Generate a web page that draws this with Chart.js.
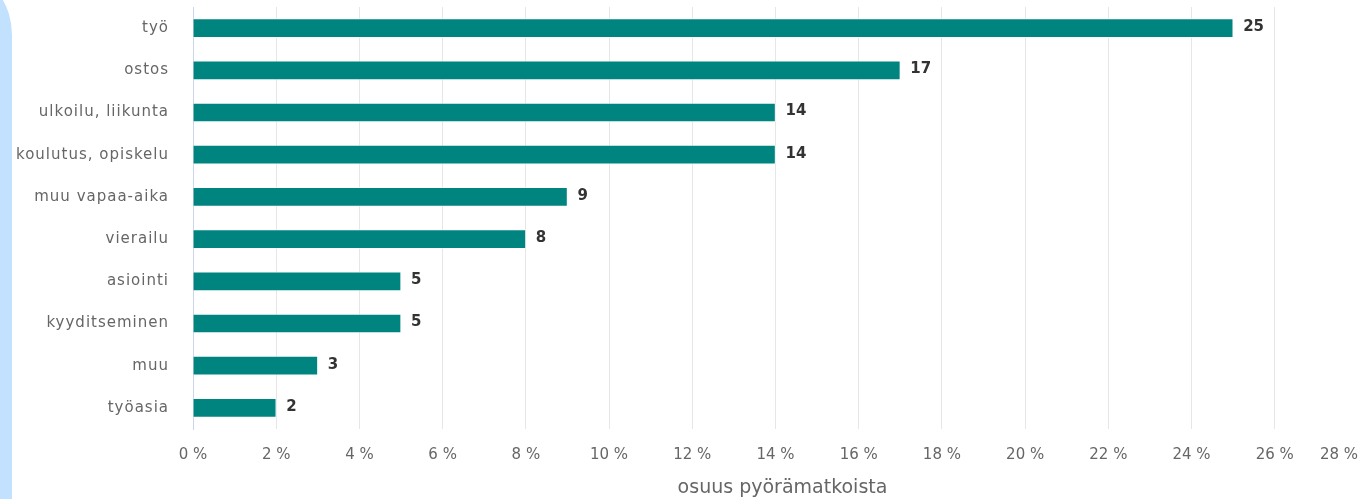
<!DOCTYPE html>
<html>
<head>
<meta charset="utf-8">
<script src="https://cdn.jsdelivr.net/npm/chart.js@4/dist/chart.umd.min.js"></script>
<style>
  html, body { margin: 0; padding: 0; background: #fff; overflow: hidden; }
  #wrap { position: relative; width: 1358px; height: 499px; }
  #panel { position: absolute; left: -40px; top: -20px; width: 52px; height: 600px;
           background: #c2e1ff; border-top-right-radius: 40px 55px; }
  #c { position: absolute; left: 0; top: 0; }
</style>
</head>
<body>
<div id="wrap">
  <div id="panel"></div>
  <canvas id="c" width="1358" height="499"></canvas>
</div>
<script>
const categories = ["työ", "ostos", "ulkoilu, liikunta", "koulutus, opiskelu", "muu vapaa-aika",
                    "vierailu", "asiointi", "kyyditseminen", "muu", "työasia"];
const shares = [25, 17, 14, 14, 9, 8, 5, 5, 3, 2];
const xTicks = [0, 2, 4, 6, 8, 10, 12, 14, 16, 18, 20, 22, 24, 26, 28];
const axisTitle = "osuus pyörämatkoista";

const FONT = "'DejaVu Sans', Verdana, sans-serif";

const spacing = {
  id: 'spacing',
  beforeDraw(chart) { chart.ctx.letterSpacing = "1px"; },
  afterDraw(chart) { chart.ctx.letterSpacing = "0px"; }
};

const overlay = {
  id: 'overlay',
  afterDatasetsDraw(chart) {
    const ctx = chart.ctx;
    const meta = chart.getDatasetMeta(0);
    ctx.save();
    ctx.letterSpacing = "0px";
    ctx.font = "bold 15px " + FONT;
    ctx.fillStyle = "#333";
    ctx.textAlign = "left";
    ctx.textBaseline = "middle";
    meta.data.forEach((bar, i) => {
      ctx.fillText(String(shares[i]), bar.x + 10, bar.y - 1);
    });
    // x tick labels
    const xs = chart.scales.x;
    ctx.font = "15px " + FONT;
    ctx.fillStyle = "#666";
    xTicks.forEach(v => {
      const label = v + " %";
      const w = ctx.measureText(label).width;
      let x = xs.getPixelForValue(v) - w / 2;
      if (x + w > chart.width) x = chart.width - w;
      ctx.textAlign = "left";
      ctx.fillText(label, x, 455);
    });
    // axis title
    ctx.font = "19px " + FONT;
    ctx.textAlign = "center";
    ctx.fillText(axisTitle, (chart.chartArea.left + chart.chartArea.right) / 2 + 7, 488);
    ctx.restore();
  }
};

new Chart(document.getElementById('c'), {
  type: 'bar',
  data: {
    labels: categories,
    datasets: [{
      data: shares,
      backgroundColor: '#008480',
      borderColor: 'rgba(255,255,255,0.55)',
      borderWidth: 1,
      barThickness: 19
    }]
  },
  options: {
    indexAxis: 'y',
    responsive: false,
    animation: false,
    layout: { padding: { top: 7, right: 0, left: 0, bottom: 0 } },
    plugins: { legend: { display: false }, tooltip: { enabled: false } },
    scales: {
      x: {
        min: 0, max: 28,
        ticks: { display: false, stepSize: 2 },
        grid: { color: '#e6e6e6', drawTicks: false, lineWidth: 1 },
        border: { display: false },
        afterFit(scale) { scale.height = 70; scale.paddingLeft = 0; scale.paddingRight = 0; }
      },
      y: {
        ticks: { color: '#666', font: { family: FONT, size: 15 }, padding: 24 },
        grid: { display: false, drawTicks: false },
        border: { display: true, color: '#ccd6eb', width: 1 },
        afterFit(scale) { scale.width = 193; scale.paddingTop = 0; scale.paddingBottom = 0; }
      }
    }
  },
  plugins: [spacing, overlay]
});
</script>
</body>
</html>
